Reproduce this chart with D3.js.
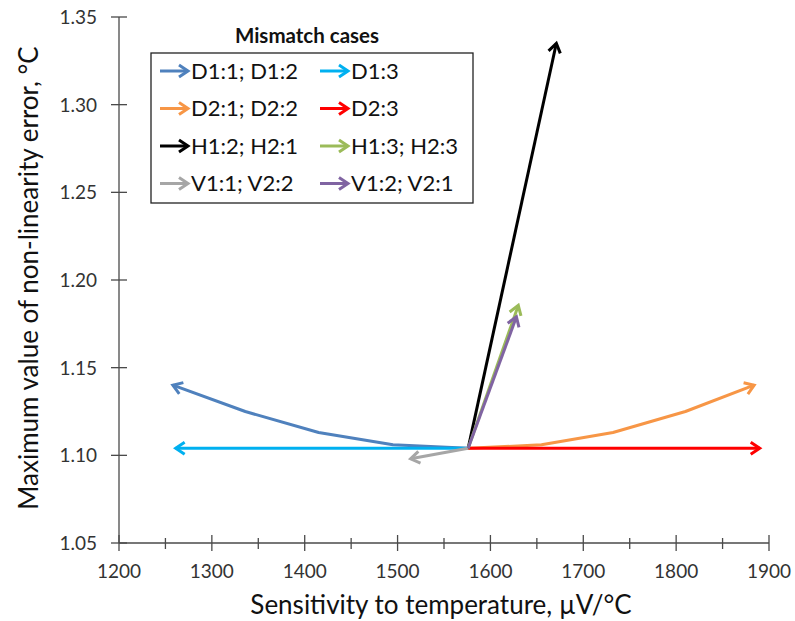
<!DOCTYPE html>
<html>
<head>
<meta charset="utf-8">
<script src="https://cdn.jsdelivr.net/npm/d3@7"></script>
<style>
  html, body { margin: 0; padding: 0; background: #fff; }
  svg { display: block; font-family: Lato, "Open Sans", sans-serif; }
</style>
</head>
<body>
<svg id="chart" width="795" height="621"></svg>
<script>
// Mismatch cases: sensitivity (µV/°C) vs. maximum non-linearity error (°C)
const seriesNames = ["D1:1; D1:2", "D1:3", "D2:1; D2:2", "D2:3", "H1:2; H2:1", "H1:3; H2:3", "V1:1; V2:2", "V1:2; V2:1"];
const seriesColors = ["#4F81BD", "#00B0F0", "#F79646", "#FF0000", "#000000", "#9BBB59", "#A6A6A6", "#8064A2"];

const sensD11 = [1576, 1495, 1415, 1336, 1258];
const errD11  = [1.104, 1.106, 1.113, 1.125, 1.140];
const sensD13 = [1576, 1261];
const errD13  = [1.104, 1.104];
const sensD21 = [1576, 1655, 1732, 1810, 1884];
const errD21  = [1.104, 1.106, 1.113, 1.125, 1.140];
const sensD23 = [1576, 1890];
const errD23  = [1.104, 1.104];
const sensH12 = [1576, 1671];
const errH12  = [1.104, 1.335];
const sensH13 = [1576, 1630];
const errH13  = [1.104, 1.1855];
const sensV11 = [1576, 1514];
const errV11  = [1.104, 1.098];
const sensV12 = [1576, 1628];
const errV12  = [1.104, 1.179];

const xTicks = [1200, 1300, 1400, 1500, 1600, 1700, 1800, 1900];
const xMinorTicks = [1250, 1350, 1450, 1550, 1650, 1750, 1850];
const yTicks = [1.05, 1.10, 1.15, 1.20, 1.25, 1.30, 1.35];

const series = [
  [sensD11, errD11], [sensD13, errD13], [sensD21, errD21], [sensD23, errD23],
  [sensH12, errH12], [sensH13, errH13], [sensV11, errV11], [sensV12, errV12]
].map(([xs, ys], i) => ({
  name: seriesNames[i],
  color: seriesColors[i],
  pts: xs.map((x, j) => [x, ys[j]])
}));

const svg = d3.select("#chart");
const x = d3.scaleLinear().domain([1200, 1900]).range([119, 769]);
const y = d3.scaleLinear().domain([1.05, 1.35]).range([543, 17]);

const axisColor = "#4a4a4a";
const labelColor = "#333";

// arrowhead markers, one per colour
const defs = svg.append("defs");
seriesColors.forEach((c, i) => {
  defs.append("marker")
    .attr("id", "arrow" + i)
    .attr("markerUnits", "userSpaceOnUse")
    .attr("viewBox", "-14 -9 17 18")
    .attr("refX", 0).attr("refY", 0)
    .attr("markerWidth", 17).attr("markerHeight", 18)
    .attr("orient", "auto")
    .append("path")
    .attr("d", "M-9,-6 L0,0 L-9,6")
    .attr("fill", "none")
    .attr("stroke", c)
    .attr("stroke-width", 3)
    .attr("stroke-linejoin", "miter");
});

// axes
const gx = svg.append("g").attr("transform", `translate(0,${y(1.05)})`);
gx.append("line").attr("x1", x(1200)).attr("x2", x(1900))
  .attr("stroke", axisColor).attr("stroke-width", 1.3);
gx.selectAll(".maj").data(xTicks).join("line")
  .attr("x1", d => x(d)).attr("x2", d => x(d)).attr("y1", -8).attr("y2", 8)
  .attr("stroke", axisColor).attr("stroke-width", 1.3);
gx.selectAll(".min").data(xMinorTicks).join("line")
  .attr("x1", d => x(d)).attr("x2", d => x(d)).attr("y1", -5).attr("y2", 6)
  .attr("stroke", axisColor).attr("stroke-width", 1.3);
gx.selectAll("text").data(xTicks).join("text")
  .attr("x", d => x(d)).attr("y", 35)
  .attr("text-anchor", "middle").attr("font-size", 19).attr("fill", labelColor)
  .text(d => d);

const gy = svg.append("g").attr("transform", `translate(${x(1200)},0)`);
gy.append("line").attr("y1", y(1.05)).attr("y2", y(1.35))
  .attr("stroke", axisColor).attr("stroke-width", 1.3);
gy.selectAll(".maj").data(yTicks).join("line")
  .attr("y1", d => y(d)).attr("y2", d => y(d)).attr("x1", -8).attr("x2", 8)
  .attr("stroke", axisColor).attr("stroke-width", 1.3);
gy.selectAll("text").data(yTicks).join("text")
  .attr("x", -22).attr("y", d => y(d)).attr("dy", "0.36em")
  .attr("text-anchor", "end").attr("font-size", 19).attr("fill", labelColor)
  .text(d => d3.format(".2f")(d));

// axis titles
svg.append("text")
  .attr("x", 441).attr("y", 614)
  .attr("text-anchor", "middle").attr("font-size", 26).attr("fill", "#111")
  .text("Sensitivity to temperature, µV/°C");
svg.append("text")
  .attr("transform", `translate(37.5,${(17 + 543) / 2 - 2}) rotate(-90)`)
  .attr("text-anchor", "middle").attr("font-size", 26).attr("fill", "#111")
  .text("Maximum value of non-linearity error, °C");

// series lines with arrowheads
const line = d3.line().x(d => x(d[0])).y(d => y(d[1]));
svg.append("g").selectAll("path").data(series).join("path")
  .attr("d", d => line(d.pts))
  .attr("fill", "none")
  .attr("stroke", d => d.color)
  .attr("stroke-width", 3)
  .attr("stroke-linejoin", "round")
  .attr("marker-end", (d, i) => `url(#arrow${i})`);

// legend
const legend = svg.append("g");
legend.append("text")
  .attr("x", 307).attr("y", 42.5)
  .attr("text-anchor", "middle").attr("font-size", 20.5).attr("font-weight", "bold")
  .attr("fill", "#111")
  .text("Mismatch cases");
legend.append("rect")
  .attr("x", 151).attr("y", 53).attr("width", 322).attr("height", 150)
  .attr("fill", "#fff").attr("stroke", "#222").attr("stroke-width", 1.3);

const rowY = [71, 108.5, 146, 183.5];
const colX = [160, 320];
const items = legend.selectAll("g.item").data(series).join("g")
  .attr("class", "item")
  .attr("transform", (d, i) => `translate(${colX[i % 2]},${rowY[Math.floor(i / 2)]})`);
items.append("line")
  .attr("x1", 0).attr("x2", 28).attr("y1", 0).attr("y2", 0)
  .attr("stroke", d => d.color).attr("stroke-width", 3)
  .attr("marker-end", (d, i) => `url(#arrow${i})`);
items.append("text")
  .attr("x", 31).attr("y", 0).attr("dy", "0.36em")
  .attr("font-size", 22).attr("fill", "#111")
  .text(d => d.name);
</script>
</body>
</html>
